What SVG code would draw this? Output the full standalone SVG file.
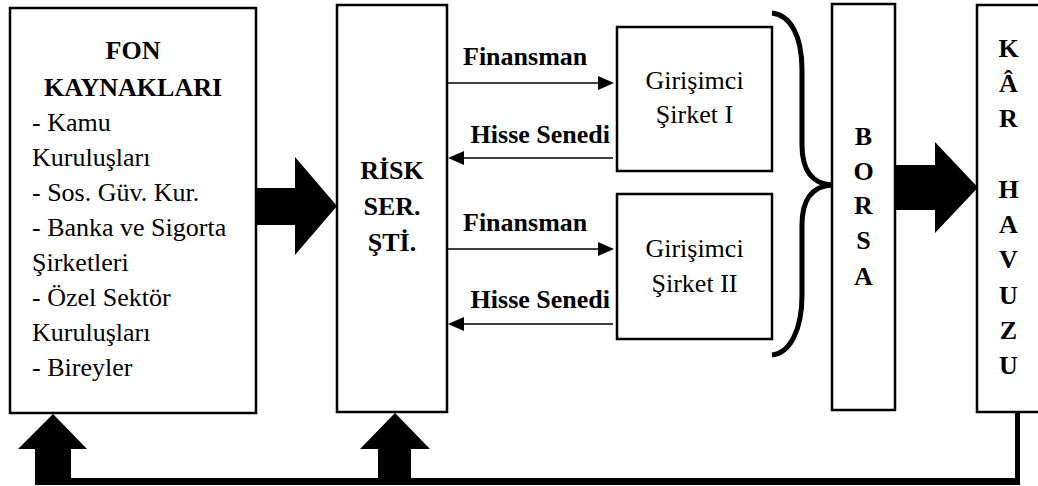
<svg xmlns="http://www.w3.org/2000/svg" width="1038" height="486" viewBox="0 0 1038 486">
<style>
.box{fill:#fff;stroke:#000;stroke-width:2.5}
.b{font-weight:bold}
.c{text-anchor:middle}
.thin{stroke:#000;stroke-width:1.4;fill:none}
.blk{fill:#000;stroke:none}
</style>
<rect width="1038" height="486" fill="#fff"/>
<g font-family="Liberation Serif, Times New Roman, serif" font-size="26" fill="#000">
<g id="fon">
<rect class="box" x="10" y="8" width="246" height="405"/>
<text class="b c" x="133" y="59">FON</text>
<text class="b c" x="133" y="96">KAYNAKLARI</text>
<text x="32" y="131">- Kamu</text>
<text x="32" y="166">Kuruluşları</text>
<text x="32" y="201">- Sos. Güv. Kur.</text>
<text x="32" y="236">- Banka ve Sigorta</text>
<text x="32" y="271">Şirketleri</text>
<text x="32" y="306">- Özel Sektör</text>
<text x="32" y="341">Kuruluşları</text>
<text x="32" y="376">- Bireyler</text>
</g>
<g id="risk">
<rect class="box" x="337" y="5" width="110" height="407"/>
<text class="b c" x="392" y="179">RİSK</text>
<text class="b c" x="392" y="215">SER.</text>
<text class="b c" x="392" y="251">ŞTİ.</text>
</g>
<g id="sirket1">
<rect class="box" x="617" y="27" width="155" height="144"/>
<text class="c" x="694.5" y="89">Girişimci</text>
<text class="c" x="694.5" y="123">Şirket I</text>
</g>
<g id="sirket2">
<rect class="box" x="617" y="194" width="155" height="145"/>
<text class="c" x="694.5" y="257">Girişimci</text>
<text class="c" x="694.5" y="292">Şirket II</text>
</g>
<g id="borsa">
<rect class="box" x="832" y="4" width="63" height="406"/>
<text class="b c" x="863.5" y="145">B</text>
<text class="b c" x="863.5" y="180">O</text>
<text class="b c" x="863.5" y="214">R</text>
<text class="b c" x="863.5" y="249">S</text>
<text class="b c" x="863.5" y="285">A</text>
</g>
<g id="kar">
<rect class="box" x="977" y="5" width="70" height="407"/>
<text class="b c" x="1008.5" y="57">K</text>
<text class="b c" x="1008.5" y="92">Â</text>
<text class="b c" x="1008.5" y="127">R</text>
<text class="b c" x="1008.5" y="198">H</text>
<text class="b c" x="1008.5" y="233">A</text>
<text class="b c" x="1008.5" y="268">V</text>
<text class="b c" x="1008.5" y="304">U</text>
<text class="b c" x="1008.5" y="339">Z</text>
<text class="b c" x="1008.5" y="374">U</text>
</g>
<g id="connectors">
<line class="thin" x1="447" y1="83" x2="600" y2="83"/>
<polygon class="blk" points="614,83 598,76 598,90"/>
<line class="thin" x1="461" y1="158" x2="613" y2="158"/>
<polygon class="blk" points="448,158 464,151 464,165"/>
<line class="thin" x1="447" y1="249" x2="600" y2="249"/>
<polygon class="blk" points="614,249 598,242 598,256"/>
<line class="thin" x1="461" y1="324" x2="613" y2="324"/>
<polygon class="blk" points="448,324 464,317 464,331"/>
<text class="b" x="463" y="65">Finansman</text>
<text class="b" x="610" y="143" text-anchor="end">Hisse Senedi</text>
<text class="b" x="463" y="231">Finansman</text>
<text class="b" x="610" y="308" text-anchor="end">Hisse Senedi</text>
<path d="M772,13 C790,15 802,35 802,70 L802,145 C802,170 812,184 832,185 C812,186 802,200 802,225 L802,295 C802,330 790,353 772,355" fill="none" stroke="#000" stroke-width="5"/>
<polygon class="blk" points="256,188 295,188 295,157 337,206 295,255 295,225 256,225"/>
<polygon class="blk" points="895,165 935,165 935,142 978,187.5 935,233 935,210 895,210"/>
<polygon class="blk" points="53,414 87,449 71,449 71,478 378,478 378,449 360,449 395,413 430,449 411,449 411,478 1015,478 1015,412 1020,412 1020,485 35,485 35,449 18,449"/>
</g>
</g>
</svg>
